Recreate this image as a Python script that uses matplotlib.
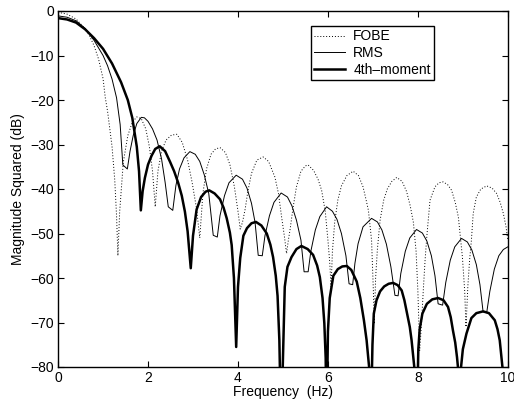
import matplotlib
matplotlib.use('Agg')
from matplotlib import pyplot as plt

# Values (frequency in Hz, magnitude in dB)
fobe_f = [0.0, 0.2, 0.4, 0.6, 0.7, 0.8, 0.9, 1.0, 1.05, 1.1, 1.2, 1.26, 1.3, 1.33,
          1.37, 1.45, 1.55, 1.65, 1.75, 1.85, 1.95, 2.03, 2.1, 2.16,
          2.22, 2.3, 2.4, 2.52, 2.64, 2.76, 2.88, 2.98, 3.08, 3.15,
          3.22, 3.3, 3.4, 3.5, 3.6, 3.72, 3.82, 3.92, 4.0, 4.05,
          4.1, 4.16, 4.22, 4.3, 4.42, 4.56, 4.68, 4.82, 4.9, 4.97, 5.03, 5.08,
          5.12, 5.16, 5.22, 5.3, 5.4, 5.5, 5.56, 5.68, 5.78, 5.86, 5.94, 6.0, 6.04, 6.07,
          6.1, 6.15, 6.22, 6.3, 6.42, 6.56, 6.68, 6.78, 6.85, 6.9, 6.97, 7.01, 7.03,
          7.06, 7.1, 7.16, 7.24, 7.32, 7.42, 7.53, 7.65, 7.75, 7.83, 7.9, 7.96, 8.0, 8.04,
          8.08, 8.12, 8.16, 8.2, 8.27, 8.38, 8.47, 8.56, 8.66, 8.75, 8.83, 8.9, 8.99, 9.04, 9.07,
          9.11, 9.15, 9.19, 9.23, 9.3, 9.4, 9.53, 9.65, 9.75, 9.83, 9.9, 9.96, 10.0]
fobe_db = [-0.3, -0.7, -1.8, -4.0, -5.6, -7.8, -10.8, -15.2, -19.5, -22.5, -30.5, -38.0, -46.0, -55.0,
           -45.0, -34.0, -28.0, -25.0, -23.8, -24.2, -26.5, -30.5, -36.0, -44.0,
           -36.0, -31.5, -29.0, -27.9, -27.7, -29.5, -33.5, -38.5, -44.5, -51.0,
           -41.0, -35.5, -32.2, -31.0, -30.7, -31.8, -34.5, -39.5, -45.0, -49.0,
           -47.5, -44.5, -40.5, -36.5, -33.5, -32.8, -33.8, -37.3, -41.0, -46.3, -50.5, -54.5,
           -51.5, -49.0, -44.5, -39.5, -36.0, -34.8, -34.6, -35.8, -37.8, -40.3, -45.0, -51.5, -56.5, -62.0,
           -54.0, -47.5, -42.5, -39.3, -37.0, -36.0, -37.0, -39.5, -42.5, -44.8, -51.5, -62.8, -70.3,
           -60.0, -53.5, -47.0, -42.5, -40.0, -38.3, -37.4, -38.3, -40.6, -43.8, -47.5, -54.0, -63.0, -76.3,
           -70.3, -62.8, -56.0, -50.5, -42.5, -39.5, -38.6, -38.4, -39.0, -40.3, -43.0, -46.3, -55.3, -62.8, -71.0,
           -62.0, -56.0, -51.5, -45.5, -41.8, -40.0, -39.3, -39.8, -41.0, -43.0, -45.5, -48.5, -51.5]

rms_f = [0.0, 0.2, 0.4, 0.6, 0.8, 1.0, 1.1, 1.2, 1.3, 1.38, 1.44, 1.54,
         1.6, 1.67, 1.75, 1.85, 1.92, 2.0, 2.1, 2.2, 2.3, 2.38, 2.45, 2.55,
         2.62, 2.7, 2.8, 2.93, 3.05, 3.15, 3.25, 3.35, 3.45, 3.54,
         3.6, 3.7, 3.8, 3.96, 4.1, 4.2, 4.3, 4.38, 4.45, 4.54,
         4.6, 4.7, 4.8, 4.96, 5.1, 5.2, 5.3, 5.4, 5.47, 5.56,
         5.62, 5.72, 5.82, 5.97, 6.1, 6.2, 6.3, 6.4, 6.47, 6.55,
         6.6, 6.67, 6.78, 6.97, 7.1, 7.2, 7.3, 7.4, 7.49, 7.56,
         7.62, 7.72, 7.82, 7.97, 8.1, 8.2, 8.3, 8.38, 8.45, 8.55,
         8.62, 8.72, 8.82, 8.97, 9.1, 9.2, 9.3, 9.38, 9.45, 9.53,
         9.6, 9.7, 9.8, 9.9, 10.0]
rms_db = [-1.1, -1.4, -2.2, -3.9, -6.6, -10.0, -12.3, -15.3, -19.5, -25.5, -34.6, -35.5,
          -31.5, -28.0, -25.3, -23.9, -24.0, -24.8, -26.5, -29.0, -33.2, -38.5, -44.0, -44.8,
          -39.2, -35.5, -33.0, -31.6, -32.2, -33.8, -36.8, -41.0, -50.4, -50.8,
          -46.0, -41.5, -38.6, -36.9, -37.8, -39.8, -43.2, -47.5, -54.9, -55.0,
          -50.5, -46.0, -43.0, -40.9, -41.8, -43.8, -47.0, -51.5, -58.6, -58.6,
          -54.0, -49.2, -46.2, -44.0, -45.0, -46.8, -50.0, -55.0, -61.3, -61.5,
          -56.7, -52.3, -48.5, -46.6, -47.4, -49.2, -52.4, -57.5, -63.9, -64.0,
          -59.0, -54.0, -51.0, -49.1, -49.9, -51.7, -55.0, -59.5, -65.8, -66.1,
          -61.0, -56.0, -53.0, -51.1, -51.9, -53.7, -57.0, -61.5, -67.6, -67.8,
          -63.0, -58.0, -55.0, -53.6, -53.0]

m4_f = [0.0, 0.2, 0.4, 0.6, 0.8, 1.0, 1.2, 1.4, 1.55, 1.65, 1.75, 1.8, 1.84,
        1.88, 1.93, 2.0, 2.08, 2.16, 2.26, 2.38, 2.49, 2.58, 2.67, 2.75, 2.82, 2.88, 2.95,
        3.0, 3.08, 3.18, 3.28, 3.36, 3.48, 3.6, 3.68, 3.75, 3.82, 3.86, 3.91, 3.96,
        4.0, 4.05, 4.12, 4.2, 4.3, 4.4, 4.52, 4.64, 4.72, 4.78, 4.84, 4.88, 4.92, 4.96,
        5.0, 5.04, 5.1, 5.19, 5.3, 5.41, 5.55, 5.67, 5.76, 5.82, 5.88, 5.92, 5.95, 5.97,
        6.0, 6.04, 6.12, 6.22, 6.32, 6.42, 6.52, 6.64, 6.72, 6.8, 6.86, 6.92, 6.95,
        6.99, 7.02, 7.08, 7.16, 7.25, 7.35, 7.45, 7.55, 7.64, 7.7, 7.76, 7.82, 7.86, 7.92, 7.97,
        8.01, 8.04, 8.1, 8.2, 8.32, 8.45, 8.57, 8.67, 8.73, 8.78, 8.83, 8.87, 8.9, 8.92,
        8.96, 9.0, 9.08, 9.19, 9.3, 9.45, 9.58, 9.71, 9.77, 9.82, 9.88, 9.92, 10.0]
m4_db = [-1.6, -1.9, -2.6, -4.1, -6.1, -8.5, -11.8, -16.0, -20.0, -24.0, -30.5, -36.0, -44.8,
         -40.5, -37.5, -34.5, -32.5, -31.0, -30.4, -31.5, -33.9, -36.0, -38.6, -41.5, -45.1, -49.5, -57.8,
         -50.5, -44.6, -41.8, -40.6, -40.3, -41.0, -42.3, -44.2, -46.6, -49.8, -52.6, -60.0, -75.5,
         -62.0, -55.5, -50.5, -48.8, -47.7, -47.4, -48.2, -50.0, -52.5, -55.3, -59.5, -64.0, -74.0, -95.0,
         -78.0, -62.0, -57.5, -55.3, -53.5, -52.8, -53.5, -54.8, -57.2, -59.8, -64.5, -70.2, -78.0, -95.0,
         -72.0, -64.5, -59.5, -58.0, -57.4, -57.3, -58.2, -60.8, -64.5, -69.5, -74.0, -80.5, -95.0,
         -75.0, -68.0, -65.0, -63.0, -61.9, -61.3, -61.1, -61.6, -62.8, -65.0, -68.0, -71.0, -74.0, -80.0, -95.0,
         -76.0, -71.5, -68.0, -65.8, -64.8, -64.5, -65.0, -66.5, -68.8, -71.8, -74.5, -77.8, -81.0, -95.0,
         -80.0, -76.0, -72.5, -69.0, -67.9, -67.5, -67.9, -69.5, -71.5, -74.0, -80.0, -95.0, -95.0]

plt.rcParams['font.family'] = ['Liberation Sans', 'DejaVu Sans']
plt.rcParams['font.size'] = 10

fig = plt.figure(figsize=(5.14, 4.0), dpi=100)
ax = fig.add_axes([0.113, 0.0825, 0.875, 0.89])

ax.plot(fobe_f, fobe_db, color='k', linestyle=(0, (1, 2)), linewidth=0.7, label='FOBE')
ax.plot(rms_f, rms_db, color='k', linewidth=0.7, label='RMS')
ax.plot(m4_f, m4_db, color='k', linewidth=1.8, label='4th\u2013moment')

ax.set_xlim(0, 10)
ax.set_ylim(-80, 0)
ax.set_xticks([0, 2, 4, 6, 8, 10])
ax.set_yticks(range(-80, 1, 10))
ax.set_yticklabels(['\u2212%d' % -v if v < 0 else '0' for v in range(-80, 1, 10)])
ax.tick_params(direction='in', top=True, right=True, length=4, width=0.8, pad=3)
for s in ax.spines.values():
    s.set_linewidth(1.0)

ax.set_xlabel('Frequency  (Hz)', labelpad=0)
ax.set_ylabel('Magnitude Squared (dB)', labelpad=4)

leg = ax.legend(loc='upper left', bbox_to_anchor=(0.562, 0.958), borderaxespad=0,
                fancybox=False, edgecolor='k', framealpha=1, handlelength=2.2,
                handletextpad=0.6, labelspacing=0.2, borderpad=0.25)
leg.get_frame().set_linewidth(1.0)

fig.savefig('out.png', dpi=100)
